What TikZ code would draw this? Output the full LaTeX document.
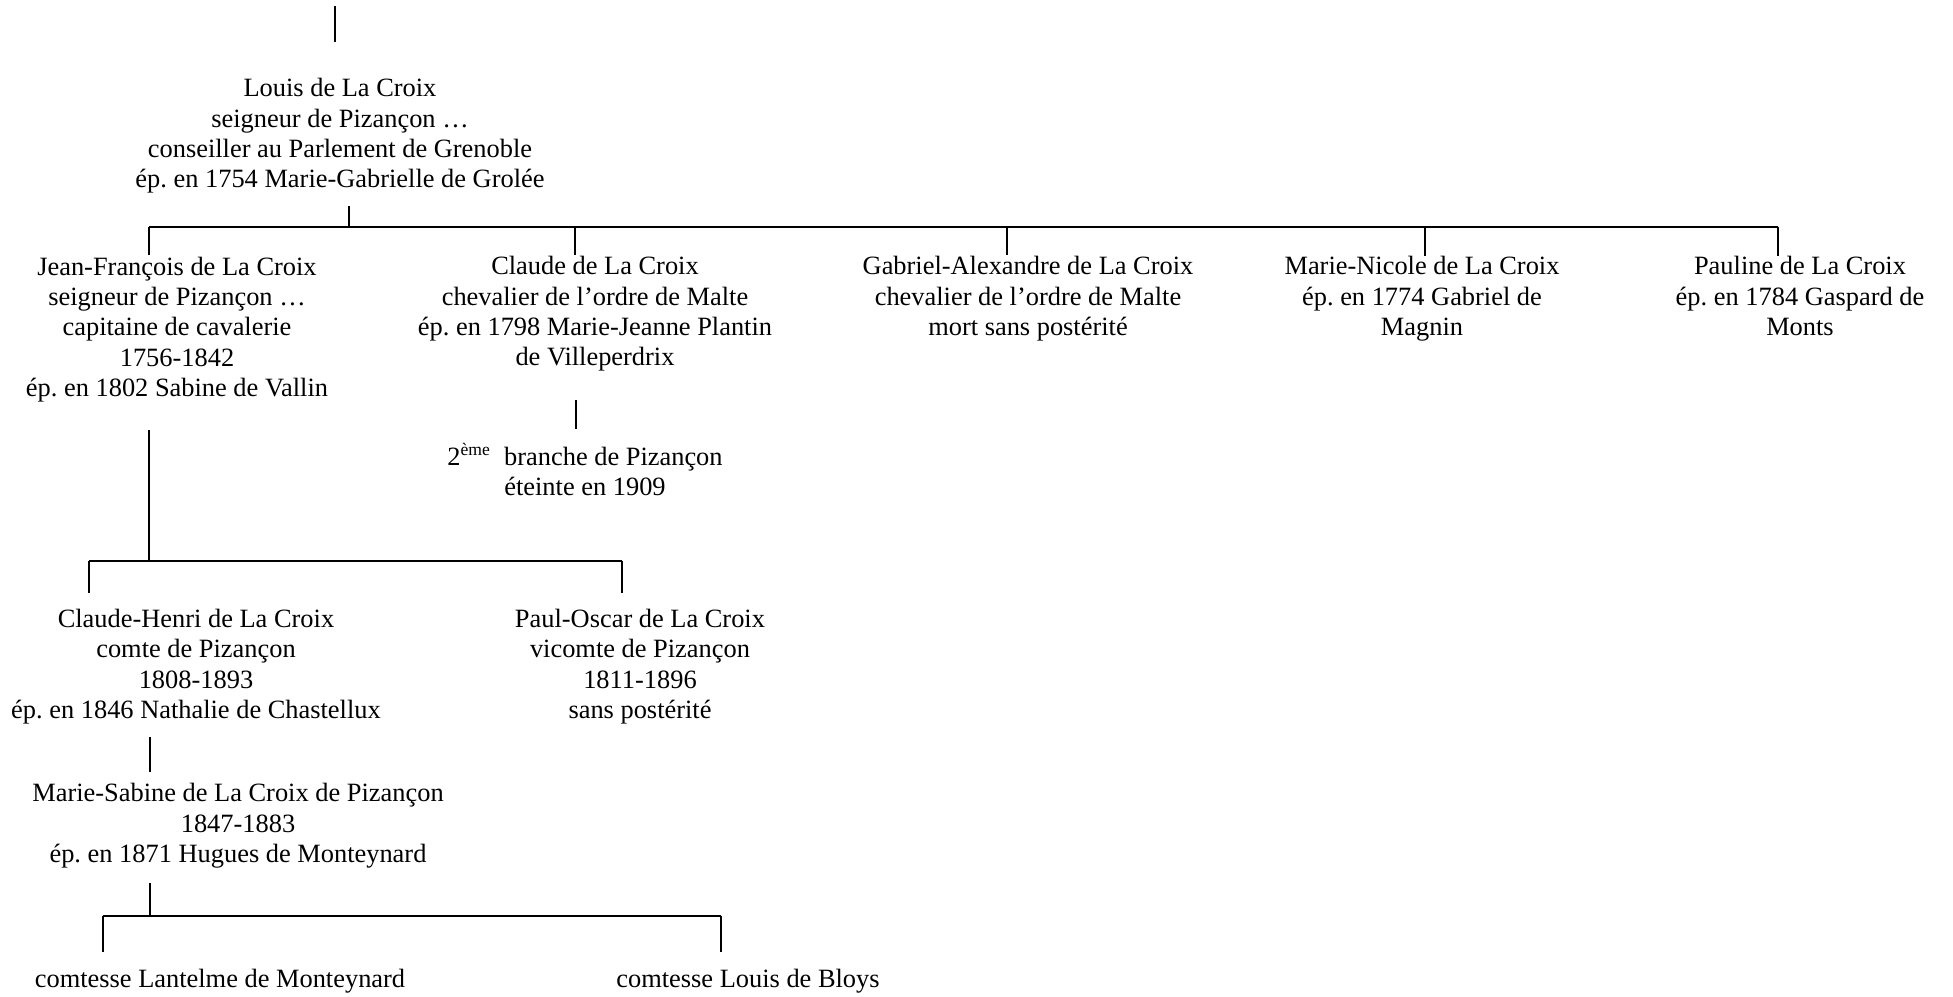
\documentclass[tikz,border=0pt]{standalone}
\usepackage{fontspec}
\setmainfont{Liberation Serif}
\frenchspacing
\begin{document}
\begin{tikzpicture}[x=0.4545pt,y=-0.4545pt,
  person/.style={align=center, inner sep=0pt, anchor=base, font=\fontsize{12}{13.8}\selectfont},
  vline/.style={line width=0.6pt},
  hline/.style={line width=1pt}]
\useasboundingbox (0,0) rectangle (1953,997);

% persons (positioned at the baseline of their last line)
\node[person] (louis) at (340,188) {Louis de La Croix\\seigneur de Pizançon …\\conseiller au Parlement de Grenoble\\ép. en 1754 Marie-Gabrielle de Grolée};
\node[person] (jf) at (177,396.5) {Jean-François de La Croix\\seigneur de Pizançon …\\capitaine de cavalerie\\1756-1842\\ép. en 1802 Sabine de Vallin};
\node[person] (claude) at (595,366) {Claude de La Croix\\chevalier de l’ordre de Malte\\ép. en 1798 Marie-Jeanne Plantin\\de Villeperdrix};
\node[person] (gabriel) at (1028,335.7) {Gabriel-Alexandre de La Croix\\chevalier de l’ordre de Malte\\mort sans postérité};
\node[person] (marien) at (1422,335.7) {Marie-Nicole de La Croix\\ép. en 1774 Gabriel de\\Magnin};
\node[person] (pauline) at (1800,335.7) {Pauline de La Croix\\ép. en 1784 Gaspard de\\Monts};
\node[person] (branche) at (585,495.4) {2\textsuperscript{ème}\ \ branche de Pizançon\\éteinte en 1909};
\node[person] (ch) at (196,718.5) {Claude-Henri de La Croix\\comte de Pizançon\\1808-1893\\ép. en 1846 Nathalie de Chastellux};
\node[person] (po) at (640,718.5) {Paul-Oscar de La Croix\\vicomte de Pizançon\\1811-1896\\sans postérité};
\node[person] (ms) at (238,862.5) {Marie-Sabine de La Croix de Pizançon\\1847-1883\\ép. en 1871 Hugues de Monteynard};
\node[person] (cl) at (220,987) {comtesse Lantelme de Monteynard};
\node[person] (cb) at (748,987) {comtesse Louis de Bloys};

% connector points
\coordinate (top0) at (335,6);   \coordinate (top1) at (335,42);
\coordinate (lo0) at (349,206);  \coordinate (lo1) at (349,227);
\coordinate (b1l) at (149,227);  \coordinate (b1r) at (1778,227);
\coordinate (jfT) at (149,255);
\coordinate (clT0) at (575,227); \coordinate (clT) at (575,255);
\coordinate (gaT0) at (1007,227); \coordinate (gaT) at (1007,255);
\coordinate (mnT0) at (1425,227); \coordinate (mnT) at (1425,256);
\coordinate (paT) at (1778,256);
\coordinate (cl0) at (576,400);  \coordinate (cl1) at (576,429);
\coordinate (jf0) at (149,430);  \coordinate (jf1) at (149,561);
\coordinate (b2l) at (89,561);   \coordinate (b2r) at (622,561);
\coordinate (chT) at (89,593);   \coordinate (poT) at (622,593);
\coordinate (ch0) at (150,737);  \coordinate (ch1) at (150,772);
\coordinate (ms0) at (150,883);  \coordinate (ms1) at (150,916);
\coordinate (b3l) at (103,916);  \coordinate (b3r) at (721,916);
\coordinate (clT3) at (103,952); \coordinate (cbT3) at (721,952);

% connectors
\draw[vline] (top0) -- (top1);
\draw[vline] (lo0) -- (lo1);
\draw[hline] (b1l) -- (b1r);
\draw[vline] (b1l) -- (jfT);
\draw[vline] (clT0) -- (clT);
\draw[vline] (gaT0) -- (gaT);
\draw[vline] (mnT0) -- (mnT);
\draw[hline] (b1r) -- (paT);
\draw[vline] (cl0) -- (cl1);
\draw[vline] (jf0) -- (jf1);
\draw[hline] (b2l) -- (b2r);
\draw[vline] (b2l) -- (chT);
\draw[vline] (b2r) -- (poT);
\draw[vline] (ch0) -- (ch1);
\draw[vline] (ms0) -- (ms1);
\draw[hline] (b3l) -- (b3r);
\draw[vline] (b3l) -- (clT3);
\draw[vline] (b3r) -- (cbT3);
\end{tikzpicture}
\end{document}
